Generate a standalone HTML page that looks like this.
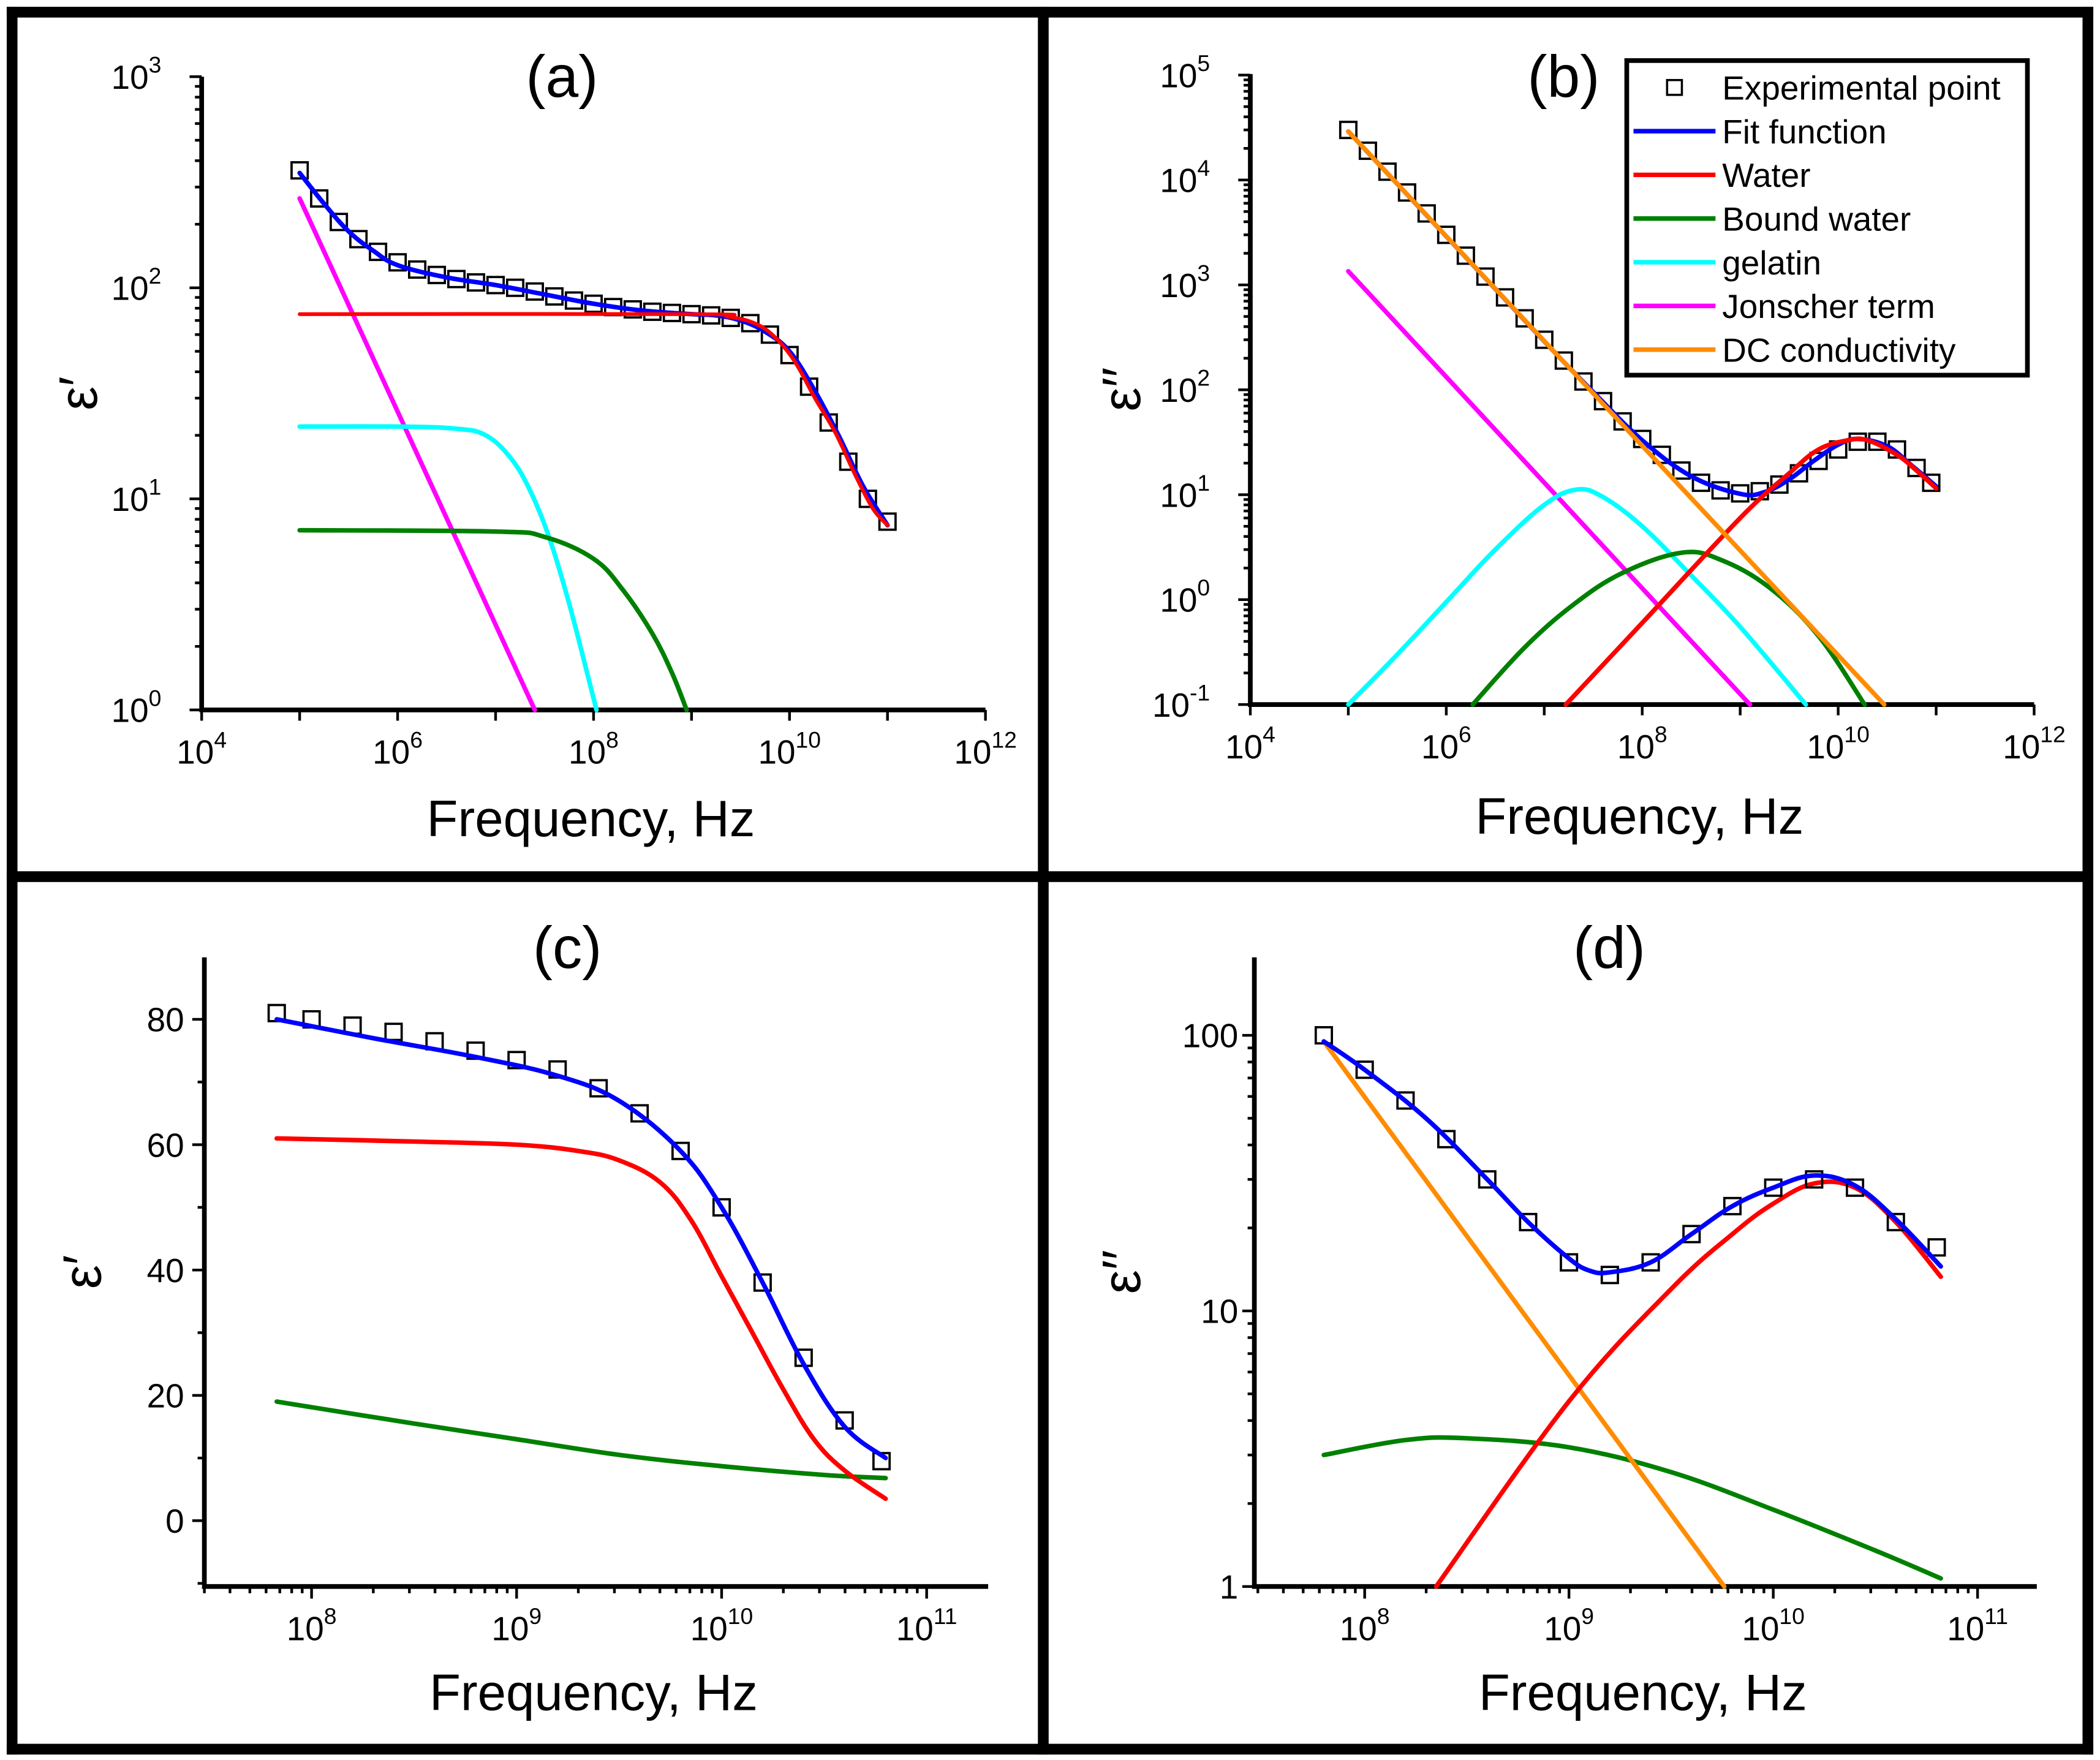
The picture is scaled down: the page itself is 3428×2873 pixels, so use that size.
<!DOCTYPE html>
<html><head><meta charset="utf-8"><style>
html,body{margin:0;padding:0;background:#fff;}
svg{display:block;}
text{font-family:"Liberation Sans",sans-serif;fill:#000;}
</style></head><body>
<svg id="fig" xmlns="http://www.w3.org/2000/svg" width="3428" height="2873" viewBox="0 0 1562 1309">
<rect x="0" y="0" width="1562" height="1309" fill="#fff"/>
<g id="frame" fill="#000">
<rect x="5" y="5" width="1552" height="8"/>
<rect x="5" y="1297" width="1552" height="8"/>
<rect x="5" y="5" width="8" height="1300"/>
<rect x="1549" y="5" width="8" height="1300"/>
<rect x="772" y="5" width="8" height="1300"/>
<rect x="5" y="648" width="1552" height="8"/>
</g>
<g id="pa"></g>
<g id="pb"></g>
<g id="pc"></g>
<g id="pd"></g>
<g id="legend"></g>
</svg>
<script>
// ---------- Panel (a) data: log10(frequency) and epsilon' ----------
const aExpLogF=[5.0,5.2,5.4,5.6,5.8,6.0,6.2,6.4,6.6,6.8,7.0,7.2,7.4,7.6,7.8,8.0,8.2,8.4,8.6,8.8,9.0,9.2,9.4,9.6,9.8,10.0,10.2,10.4,10.6,10.8,11.0];
const aExpVal=[360,265,205,170,148,132,122,115,110,106,103,100,96,91,87,84,81,79,77,76,75,74,72,68,60,48,34,23,15,10,7.8];
const aFitLogF=[5,5.25,5.5,5.75,6,6.5,7,7.5,8,8.5,9,9.25,9.5,9.75,10,10.25,10.5,10.75,11];
const aFitVal=[350,250,185,150,128,112,103,93,84,78,75,74,70,62,50,33,20,11.5,7.5];
const aWaterLogF=[5,9,9.37,9.64,9.84,10.05,10.26,10.47,10.67,10.85,11];
const aWaterVal=[75,75,73,68,59,45,30,20.5,13,9,7.5];
const aGelLogF=[5,6,6.6,6.9,7.15,7.35,7.55,7.75,7.95,8.03];
const aGelVal=[22,22,21.5,20,15.7,11,6.5,3.2,1.4,1.0];
const aBoundLogF=[5,7,7.5,8,8.3,8.6,8.8,8.95];
const aBoundVal=[7.1,7,6.6,5.2,3.7,2.3,1.5,1.0];
const aJonLogF=[5,7.4];
const aJonVal=[265,1];

// ---------- Panel (b) data: epsilon'' ----------
const bExpLogF=[5.0,5.2,5.4,5.6,5.8,6.0,6.2,6.4,6.6,6.8,7.0,7.2,7.4,7.6,7.8,8.0,8.2,8.4,8.6,8.8,9.0,9.2,9.4,9.6,9.8,10.0,10.2,10.4,10.6,10.8,10.95];
const bExpVal=[30000,19000,12000,7600,4800,3000,1900,1200,760,480,300,190,120,78,50,34,24,17,13,11,10.3,10.8,12.5,16,21,27,32,32,27,18,13];
const bFitLogF=[5,6,7,7.5,8,8.5,9,9.25,9.5,9.75,10,10.2,10.5,10.75,11];
const bFitVal=[29000,2900,290,95,33,15,10.2,10.6,14,21,30,34,29,19,12];
const bWaterLogF=[7.22,8,9,9.5,9.8,10.1,10.3,10.6,10.8,11];
const bWaterVal=[0.1,0.6,6,16,27,33,33,24,17,11.5];
const bBoundLogF=[6.27,6.8,7.3,7.8,8.4,8.8,9.3,9.8,10.27];
const bBoundVal=[0.1,0.35,0.9,1.8,2.8,2.4,1.3,0.45,0.1];
const bGelLogF=[5,5.5,6,6.5,7,7.33,7.6,8,8.5,9,9.67];
const bGelVal=[0.1,0.3,0.95,3,8,11.2,9.5,5,1.7,0.55,0.1];
const bJonLogF=[5,9.1];
const bJonVal=[1350,0.1];
const bDcLogF=[5,10.47];
const bDcVal=[29000,0.1];

// ---------- Panel (c) data: epsilon' (linear) ----------
const cExpLogF=[7.83,8.0,8.2,8.4,8.6,8.8,9.0,9.2,9.4,9.6,9.8,10.0,10.2,10.4,10.6,10.78];
const cExpVal=[81,80,79,78,76.5,75,73.5,72,69,65,59,50,38,26,16,9.5];
const cFitLogF=[7.83,8.3,8.8,9.2,9.5,9.8,10,10.2,10.4,10.6,10.8];
const cFitVal=[80,77,74,71,67,59,50,38,25,15,10];
const cWaterLogF=[7.83,8.5,9,9.3,9.5,9.7,9.85,10,10.15,10.3,10.45,10.6,10.8];
const cWaterVal=[61,60.5,60,59,57.5,54,48,39,30,21,13,8,3.5];
const cBoundLogF=[7.83,8.5,9,9.5,10,10.5,10.8];
const cBoundVal=[19,15.5,13,10.5,8.7,7.3,6.8];

// ---------- Panel (d) data: epsilon'' ----------
const dExpLogF=[7.8,8.0,8.2,8.4,8.6,8.8,9.0,9.2,9.4,9.6,9.8,10.0,10.2,10.4,10.6,10.8];
const dExpVal=[100,75,58,42,30,21,15,13.5,15,19,24,28,30,28,21,17];
const dFitLogF=[7.8,8,8.3,8.6,8.8,9,9.1,9.2,9.4,9.6,9.8,10,10.2,10.4,10.6,10.82];
const dFitVal=[95,75,50,30,21,15.5,14,13.8,15,19,24,28,31,28.5,21.5,14.5];
const dWaterLogF=[8.35,9,9.5,9.8,10,10.2,10.4,10.6,10.82];
const dWaterVal=[1,4.7,12,19,24.5,29,28,21,13.3];
const dBoundLogF=[7.8,8.2,8.5,9,9.5,10,10.5,10.82];
const dBoundVal=[3.0,3.4,3.45,3.2,2.6,1.9,1.35,1.07];
const dDcLogF=[7.8,9.76];
const dDcVal=[95,1];

// ---------- tick labels ----------
const aXTicks=[4,6,8,10,12];
const aYTicks=[0,1,2,3];
const bYTicks=[-1,0,1,2,3,4,5];
const cXTicks=[8,9,10,11];
const cYTicks=[0,20,40,60,80];
const dYTickLabels=["1","10","100"];

const COL={exp:"#000",fit:"#0000ff",water:"#ff0000",bound:"#008000",gel:"#00ffff",jon:"#ff00ff",dc:"#ff8c00"};
const NS="http://www.w3.org/2000/svg";
function mk(tag,attrs,parent){const e=document.createElementNS(NS,tag);for(const k in attrs)e.setAttribute(k,attrs[k]);parent.appendChild(e);return e;}

function makeAxes(c){
  c.sx=v=>c.x0+(v-c.xmin)/(c.xmax-c.xmin)*(c.x1-c.x0);
  c.sy=v=>{const t=c.ylog?Math.log10(v):v;return c.yb-(t-c.ymin)/(c.ymax-c.ymin)*(c.yb-c.yt);};
  return c;
}
function drawLine(g,c,lx,vals,col,name,w){
  const P=lx.map((v,i)=>[c.sx(v),c.sy(vals[i])]);
  let d="M"+P[0][0].toFixed(2)+","+P[0][1].toFixed(2);
  for(let i=0;i<P.length-1;i++){
    const p0=P[i-1]||P[i],p1=P[i],p2=P[i+1],p3=P[i+2]||P[i+1];
    const t=0.18;
    const c1=[p1[0]+(p2[0]-p0[0])*t,p1[1]+(p2[1]-p0[1])*t];
    const c2=[p2[0]-(p3[0]-p1[0])*t,p2[1]-(p3[1]-p1[1])*t];
    d+="C"+c1[0].toFixed(2)+","+c1[1].toFixed(2)+" "+c2[0].toFixed(2)+","+c2[1].toFixed(2)+" "+p2[0].toFixed(2)+","+p2[1].toFixed(2);
  }
  const p=mk("path",{d:d,fill:"none",stroke:col,"stroke-width":w||3.4,"stroke-linejoin":"round","stroke-linecap":"round"},g);
  
  
}
function drawPts(g,c,lx,vals,name){
  const gg=mk("g",{},g);
  
  
  for(let i=0;i<lx.length;i++){
    const r=mk("rect",{x:c.sx(lx[i])-6,y:c.sy(vals[i])-6,width:12,height:12,fill:"none",stroke:"#000","stroke-width":1.7},gg);
    
    
  }
}
function supLabel(g,x,y,exp,anchor,name){
  const t=mk("text",{x:x,y:y,"font-size":25,"text-anchor":anchor},g);
  
  
  t.textContent="10";
  const s=mk("tspan",{dy:-12,"font-size":17},t);
  s.textContent=String(exp);
}
function frameAxes(g,c,title,ylab,xlabY){
  const ax=mk("path",{d:`M${c.x0},${c.yt}L${c.x0},${c.yb}L${c.x1},${c.yb}`,fill:"none",stroke:"#000","stroke-width":3.5},g);
  
  
  const t=mk("text",{x:c.tx,y:c.ty,"font-size":44,"text-anchor":"middle"},g);
  
  
  t.textContent=title;
  const xl=mk("text",{x:(c.x0+c.x1)/2-2,y:xlabY,"font-size":38,"text-anchor":"middle"},g);
  
  
  xl.textContent="Frequency, Hz";
  const yc=(c.yt+c.yb)/2;
  const yl=mk("text",{x:0,y:0,"font-size":40,"text-anchor":"middle",transform:`translate(${c.ylx},${yc}) rotate(-90)`},g);
  
  
  yl.textContent=ylab;
}
function tick(g,x1,y1,x2,y2,name){
  const l=mk("line",{x1:x1,y1:y1,x2:x2,y2:y2,stroke:"#000","stroke-width":2},g);
  
  
}
function logXTicksDecadeOnly(g,c,labels){
  for(let e=Math.ceil(c.xmin);e<=c.xmax;e++){tick(g,c.sx(e),c.yb,c.sx(e),c.yb+8,'x-tick');}
  labels.forEach(e=>supLabel(g,c.sx(e),c.yb+40,e,"middle",'x-tick-label'));
}
function logXTicksMinor(g,c,labels){
  for(let e=Math.floor(c.xmin);e<=c.xmax;e++){
    for(let m=1;m<10;m++){const v=e+Math.log10(m);if(v<c.xmin||v>c.xmax)continue;
      tick(g,c.sx(v),c.yb,c.sx(v),c.yb+(m===1?9:5),'x-tick');}
  }
  labels.forEach(e=>supLabel(g,c.sx(e),c.yb+40,e,"middle",'x-tick-label'));
}
function logYTicks(g,c,decades,supfmt,plainLabels){
  for(let e=Math.floor(c.ymin);e<=c.ymax;e++){
    for(let m=1;m<10;m++){const v=e+Math.log10(m);if(v<c.ymin-1e-6||v>c.ymax+1e-6)continue;
      const y=c.yb-(v-c.ymin)/(c.ymax-c.ymin)*(c.yb-c.yt);
      tick(g,c.x0,y,c.x0-(m===1?9:5),y,'y-tick');}
  }
  decades.forEach((e,i)=>{
    const y=c.yb-(e-c.ymin)/(c.ymax-c.ymin)*(c.yb-c.yt);
    if(plainLabels){const t=mk("text",{x:c.x0-12,y:y+9,"font-size":25,"text-anchor":"end"},g);
      
      
      t.textContent=plainLabels[i];}
    else supLabel(g,c.x0-30,y+9,e,"end",'y-tick-label');
  });
}

// ---- Panel A ----
const A=makeAxes({x0:150,x1:733,xmin:4,xmax:12,yb:528,yt:57,ymin:0,ymax:3,ylog:true,tx:418,ty:72,ylx:72});
(function(){const g=document.getElementById('pa');
  frameAxes(g,A,"(a)","ε′",622);
  logXTicksDecadeOnly(g,A,aXTicks);
  logYTicks(g,A,aYTicks);
  drawLine(g,A,aJonLogF,aJonVal,COL.jon,'jonscher-term-line');
  drawLine(g,A,aGelLogF,aGelVal,COL.gel,'gelatin-line');
  drawLine(g,A,aBoundLogF,aBoundVal,COL.bound,'bound-water-line');
  drawPts(g,A,aExpLogF,aExpVal,'experimental-points');
  drawLine(g,A,aFitLogF,aFitVal,COL.fit,'fit-function-line');
  drawLine(g,A,aWaterLogF,aWaterVal,COL.water,'water-line',2.8);
})();
// ---- Panel B ----
const B=makeAxes({x0:930,x1:1513,xmin:4,xmax:12,yb:524,yt:55,ymin:-1,ymax:5.01,ylog:true,tx:1163,ty:72,ylx:848});
(function(){const g=document.getElementById('pb');
  frameAxes(g,B,"(b)","ε′′",620);
  logXTicksDecadeOnly(g,B,aXTicks);
  logYTicks(g,B,bYTicks);
  drawLine(g,B,bJonLogF,bJonVal,COL.jon,'jonscher-term-line');
  drawLine(g,B,bGelLogF,bGelVal,COL.gel,'gelatin-line');
  drawLine(g,B,bBoundLogF,bBoundVal,COL.bound,'bound-water-line');
  drawPts(g,B,bExpLogF,bExpVal,'experimental-points');
  drawLine(g,B,bFitLogF,bFitVal,COL.fit,'fit-function-line');
  drawLine(g,B,bWaterLogF,bWaterVal,COL.water,'water-line');
  drawLine(g,B,bDcLogF,bDcVal,COL.dc,'dc-conductivity-line');
})();
// ---- Panel C ----
const C=makeAxes({x0:152,x1:735,xmin:7.477,xmax:11.3,yb:1180,yt:712,ymin:-10.5,ymax:89.9,ylog:false,tx:422,ty:720,ylx:75});
(function(){const g=document.getElementById('pc');
  frameAxes(g,C,"(c)","ε′",1272);
  logXTicksMinor(g,C,cXTicks);
  for(let v=-10;v<=89;v+=10){const y=C.sy(v);tick(g,C.x0,y,C.x0-(v%20===0?9:5),y,'y-tick');}
  cYTicks.forEach(v=>{const t=mk("text",{x:C.x0-15,y:C.sy(v)+9,"font-size":25,"text-anchor":"end"},g);
    
    
    t.textContent=String(v);});
  drawLine(g,C,cBoundLogF,cBoundVal,COL.bound,'bound-water-line');
  drawLine(g,C,cWaterLogF,cWaterVal,COL.water,'water-line');
  drawPts(g,C,cExpLogF,cExpVal,'experimental-points');
  drawLine(g,C,cFitLogF,cFitVal,COL.fit,'fit-function-line');
})();
// ---- Panel D ----
const D=makeAxes({x0:933,x1:1515,xmin:7.46,xmax:11.29,yb:1180,yt:712,ymin:0,ymax:2.283,ylog:true,tx:1197,ty:720,ylx:848});
(function(){const g=document.getElementById('pd');
  frameAxes(g,D,"(d)","ε′′",1272);
  logXTicksMinor(g,D,cXTicks);
  logYTicks(g,D,[0,1,2],null,dYTickLabels);
  drawLine(g,D,dBoundLogF,dBoundVal,COL.bound,'bound-water-line');
  drawLine(g,D,dDcLogF,dDcVal,COL.dc,'dc-conductivity-line');
  drawLine(g,D,dWaterLogF,dWaterVal,COL.water,'water-line');
  drawPts(g,D,dExpLogF,dExpVal,'experimental-points');
  drawLine(g,D,dFitLogF,dFitVal,COL.fit,'fit-function-line');
})();
// ---- Legend ----
const legendLabels=["Experimental point","Fit function","Water","Bound water","gelatin","Jonscher term","DC conductivity"];
const legendColors=[null,COL.fit,COL.water,COL.bound,COL.gel,COL.jon,COL.dc];
(function(){const g=document.getElementById('legend');
  const bx=mk("rect",{x:1210,y:45,width:298,height:234,fill:"#fff",stroke:"#000","stroke-width":3.5},g);
  
  
  legendLabels.forEach((lab,i)=>{
    const y=65+i*32.5;
    const eg=mk("g",{},g);
    
    
    if(legendColors[i]===null){mk("rect",{x:1240,y:y-5.5,width:11,height:11,fill:"none",stroke:"#000","stroke-width":1.6},eg);}
    else{mk("line",{x1:1215,y1:y,x2:1276,y2:y,stroke:legendColors[i],"stroke-width":3.4},eg);}
    const t=mk("text",{x:1281,y:y+9,"font-size":25},eg);
    t.textContent=lab;
  });
})();
</script>
</body></html>
